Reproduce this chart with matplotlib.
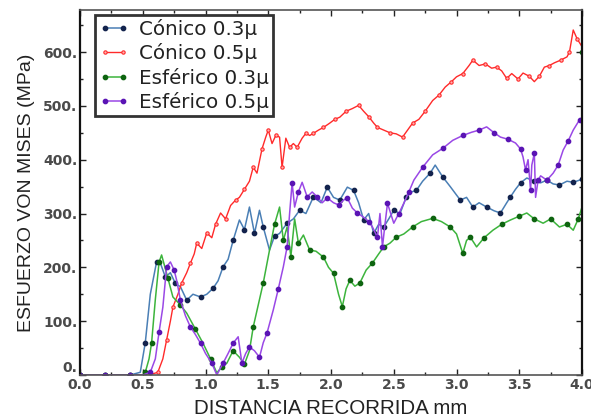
import matplotlib
matplotlib.use("Agg")
import matplotlib.pyplot as plt
from matplotlib.ticker import MultipleLocator, FuncFormatter

# Cónico 0.3 µm
c03_x = [0.0, 0.1, 0.2, 0.3, 0.4, 0.48, 0.52, 0.56, 0.61, 0.64, 0.68, 0.72, 0.76, 0.80, 0.85,
         0.90, 0.96, 1.01, 1.06, 1.10, 1.14, 1.18, 1.22, 1.27, 1.31, 1.35, 1.39, 1.43, 1.46, 1.51,
         1.55, 1.59, 1.65, 1.70, 1.75, 1.80, 1.86, 1.92, 1.97, 2.02, 2.07, 2.13, 2.18, 2.22, 2.26,
         2.30, 2.34, 2.38, 2.42, 2.46, 2.50, 2.55, 2.60, 2.64, 2.68, 2.73, 2.79, 2.83, 2.89, 2.95,
         3.03, 3.08, 3.13, 3.18, 3.24, 3.30, 3.35, 3.40, 3.43, 3.47, 3.51, 3.56, 3.62, 3.67, 3.72,
         3.77, 3.82, 3.88, 3.93, 3.98, 4.0]
c03_y = [0, 0, 0, 0, 0, 5, 60, 150, 210, 208, 182, 190, 170, 164, 139,
         150, 145, 150, 161, 175, 201, 215, 250, 288, 270, 312, 263, 306, 275, 232,
         258, 263, 282, 290, 306, 300, 331, 320, 349, 330, 325, 349, 343, 320, 288,
         300, 263, 280, 275, 290, 306, 300, 331, 340, 343, 360, 375, 390, 368, 350,
         325, 330, 312, 320, 312, 305, 301, 320, 331, 345, 357, 366, 360, 357, 362,
         355, 353, 360, 358, 362, 365]

# Cónico 0.5 µm
c05_x = [0.0, 0.2, 0.4, 0.55, 0.62, 0.66, 0.69, 0.72, 0.74, 0.78, 0.81, 0.85, 0.88, 0.91, 0.93,
         0.97, 1.01, 1.05, 1.08, 1.12, 1.16, 1.20, 1.24, 1.27, 1.31, 1.35, 1.38, 1.41, 1.45, 1.48,
         1.50, 1.53, 1.56, 1.59, 1.61, 1.64, 1.67, 1.70, 1.73, 1.77, 1.80, 1.83, 1.86, 1.90, 1.94,
         1.99, 2.03, 2.07, 2.12, 2.17, 2.22, 2.26, 2.30, 2.34, 2.37, 2.42, 2.47, 2.52, 2.57, 2.61,
         2.65, 2.70, 2.75, 2.81, 2.86, 2.91, 2.96, 3.00, 3.05, 3.10, 3.13, 3.18, 3.23, 3.28, 3.32,
         3.36, 3.40, 3.44, 3.49, 3.53, 3.58, 3.62, 3.66, 3.70, 3.74, 3.78, 3.83, 3.88, 3.90, 3.93,
         3.96, 4.0]
c05_y = [0, 0, 0, 0, 5, 30, 65, 100, 126, 150, 171, 190, 208, 225, 245,
         235, 264, 255, 280, 301, 290, 315, 325, 330, 345, 360, 386, 375, 420, 442,
         455, 430, 445, 442, 386, 440, 423, 430, 423, 440, 449, 445, 449, 455, 460,
         468, 475, 479, 490, 495, 501, 490, 480, 468, 460, 455, 450, 448, 442, 455,
         468, 475, 490, 510, 520, 535, 545, 554, 560, 575, 585, 575, 578, 570, 572,
         565, 551, 560, 550, 561, 555, 545, 555, 572, 575, 580, 585, 591, 600, 641,
         625, 610]

# Esférico 0.3 µm
e03_x = [0.0, 0.1, 0.2, 0.3, 0.4, 0.5, 0.52, 0.55, 0.57, 0.60, 0.63, 0.65, 0.70, 0.74, 0.80,
         0.85, 0.92, 0.98, 1.04, 1.09, 1.13, 1.17, 1.22, 1.27, 1.31, 1.35, 1.38, 1.42, 1.46, 1.51,
         1.55, 1.59, 1.62, 1.65, 1.68, 1.71, 1.74, 1.78, 1.83, 1.88, 1.94, 1.98, 2.02, 2.06, 2.09,
         2.12, 2.15, 2.19, 2.23, 2.28, 2.33, 2.38, 2.42, 2.47, 2.52, 2.58, 2.65, 2.72, 2.81, 2.88,
         2.95, 3.00, 3.05, 3.08, 3.11, 3.16, 3.22, 3.29, 3.36, 3.43, 3.50, 3.56, 3.62, 3.69, 3.75,
         3.82, 3.88, 3.93, 3.97, 4.0, 4.0]
e03_y = [0, 0, 0, 0, 0, 0, 5, 30, 59, 140, 210, 223, 180, 145, 130,
         115, 85, 59, 30, 4, 15, 22, 45, 33, 20, 45, 89, 130, 171, 232,
         280, 312, 250, 275, 220, 290, 245, 260, 232, 230, 219, 200, 189, 150, 127,
         160, 176, 165, 171, 195, 208, 225, 238, 245, 256, 262, 275, 285, 291, 285,
         275, 262, 226, 250, 256, 238, 255, 269, 280, 288, 295, 301, 290, 282, 290,
         275, 280, 269, 290, 312, 600]

# Esférico 0.5 µm
e05_x = [0.0, 0.1, 0.2, 0.3, 0.4, 0.5, 0.56, 0.60, 0.63, 0.66, 0.69, 0.72, 0.75, 0.77, 0.80,
         0.84, 0.88, 0.92, 0.96, 1.00, 1.05, 1.09, 1.14, 1.18, 1.22, 1.26, 1.29, 1.32, 1.35, 1.39,
         1.43, 1.46, 1.49, 1.54, 1.58, 1.62, 1.65, 1.67, 1.69, 1.71, 1.74, 1.77, 1.81, 1.85, 1.89,
         1.93, 1.97, 2.02, 2.06, 2.10, 2.13, 2.17, 2.21, 2.26, 2.30, 2.33, 2.37, 2.39, 2.41, 2.43,
         2.45, 2.50, 2.54, 2.58, 2.62, 2.66, 2.73, 2.81, 2.89, 2.97, 3.05, 3.12, 3.18, 3.24, 3.30,
         3.35, 3.41, 3.47, 3.51, 3.53, 3.55, 3.57, 3.59, 3.60, 3.62, 3.63, 3.65, 3.67, 3.72, 3.77,
         3.81, 3.85, 3.89, 3.93, 3.98, 4.0]
e05_y = [0, 0, 0, 0, 0, 0, 5, 30, 80, 126, 201, 210, 195, 176, 139,
         110, 89, 75, 59, 40, 22, 0, 22, 40, 59, 71, 22, 40, 52, 45,
         33, 60, 78, 121, 160, 201, 238, 300, 357, 312, 340, 358, 331, 340, 331,
         320, 329, 320, 316, 325, 329, 310, 301, 293, 285, 275, 256, 300, 238, 280,
         319, 282, 300, 319, 340, 362, 386, 409, 421, 436, 445, 451, 455, 461, 450,
         442, 438, 431, 420, 405, 381, 400, 343, 390, 412, 330, 362, 370, 362, 375,
         390, 418, 435, 455, 474, 478]

labels = ["Cónico 0.3μ", "Cónico 0.5μ", "Esférico 0.3μ", "Esférico 0.5μ"]

fig = plt.figure(figsize=(5.91, 4.18), dpi=100)
ax = fig.add_axes([0.1354, 0.1029, 0.8494, 0.873])

ax.plot(c03_x, c03_y, color="#4a7fb5", lw=1.1, marker="o", ms=3.1,
        mfc="#13234d", mec="#13234d", markevery=2, label=labels[0])
ax.plot(c05_x, c05_y, color="#ff2a2a", lw=1.0, marker="o", ms=2.4,
        mfc="#ffb0b0", mec="#ff2a2a", mew=0.8, markevery=2, label=labels[1])
ax.plot(e03_x, e03_y, color="#3cb43c", lw=1.1, marker="o", ms=3.1,
        mfc="#0e6410", mec="#0e6410", markevery=2, label=labels[2])
ax.plot(e05_x, e05_y, color="#9a48e6", lw=1.1, marker="o", ms=3.1,
        mfc="#5a14b4", mec="#5a14b4", markevery=2, label=labels[3])

ax.set_xlim(0, 4.0)
ax.set_ylim(0, 678)

ax.xaxis.set_major_locator(MultipleLocator(0.5))
ax.xaxis.set_minor_locator(MultipleLocator(0.25))
ax.yaxis.set_major_locator(MultipleLocator(100))
ax.yaxis.set_minor_locator(MultipleLocator(50))
ax.xaxis.set_major_formatter(FuncFormatter(lambda v, p: f"{v:.1f}"))
ax.yaxis.set_major_formatter(FuncFormatter(lambda v, p: f"{v:.0f}."))

ax.tick_params(which="both", direction="in", top=True, right=True,
               color="#222222", width=1.0)
ax.tick_params(which="major", length=4, labelsize=10, labelcolor="#4a4a4a", pad=2)
ax.tick_params(which="minor", length=2.5)

for side in ["left", "right"]:
    ax.spines[side].set_color("#111111")
    ax.spines[side].set_linewidth(1.6)
for side in ["top", "bottom"]:
    ax.spines[side].set_color("#555555")
    ax.spines[side].set_linewidth(1.2)

ax.set_ylabel("ESFUERZO VON MISES (MPa)", fontsize=14, color="#222222",
              family="Liberation Sans", labelpad=6)
ax.set_xlabel("DISTANCIA RECORRIDA mm", fontsize=14.8, color="#222222",
              family="Liberation Sans", labelpad=5)

leg = ax.legend(loc="upper left", bbox_to_anchor=(0.03, 0.987), borderaxespad=0,
                fontsize=14.3, numpoints=2, handlelength=1.5, handletextpad=0.5,
                borderpad=0.2, labelspacing=0.22, fancybox=False, framealpha=1)
leg.get_frame().set_edgecolor("#333333")
leg.get_frame().set_linewidth(2.0)
for t in leg.get_texts():
    t.set_color("#222222")

# bold tick labels; lift the "0." label so it sits above the x tick labels
fig.canvas.draw()
for tick in ax.xaxis.get_major_ticks() + ax.yaxis.get_major_ticks():
    tick.label1.set_fontweight("bold")
for tick in ax.yaxis.get_major_ticks():
    if abs(tick.get_loc()) < 1e-9:
        tick.label1.set_verticalalignment("bottom")

fig.savefig("out.png", dpi=100)
